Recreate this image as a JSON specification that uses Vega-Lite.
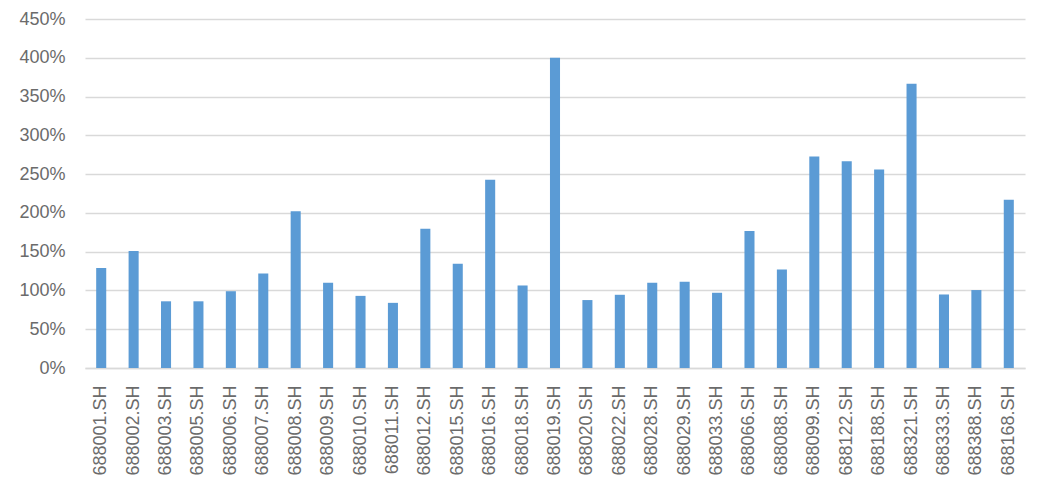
{
  "$schema": "https://vega.github.io/schema/vega-lite/v6.json",
  "width": 940,
  "height": 349,
  "autosize": {"type": "none"},
  "padding": {"left": 85, "top": 19, "right": 13, "bottom": 118},
  "background": "white",
  "config": {"view": {"stroke": null}},
  "data": {
    "values": [
      {"code": "688001.SH", "v": 1.29},
      {"code": "688002.SH", "v": 1.51},
      {"code": "688003.SH", "v": 0.86},
      {"code": "688005.SH", "v": 0.86},
      {"code": "688006.SH", "v": 0.99},
      {"code": "688007.SH", "v": 1.22},
      {"code": "688008.SH", "v": 2.02},
      {"code": "688009.SH", "v": 1.10},
      {"code": "688010.SH", "v": 0.93},
      {"code": "688011.SH", "v": 0.84},
      {"code": "688012.SH", "v": 1.795},
      {"code": "688015.SH", "v": 1.344},
      {"code": "688016.SH", "v": 2.426},
      {"code": "688018.SH", "v": 1.064},
      {"code": "688019.SH", "v": 4.00},
      {"code": "688020.SH", "v": 0.876},
      {"code": "688022.SH", "v": 0.944},
      {"code": "688028.SH", "v": 1.10},
      {"code": "688029.SH", "v": 1.112},
      {"code": "688033.SH", "v": 0.97},
      {"code": "688066.SH", "v": 1.765},
      {"code": "688088.SH", "v": 1.27},
      {"code": "688099.SH", "v": 2.726},
      {"code": "688122.SH", "v": 2.666},
      {"code": "688188.SH", "v": 2.558},
      {"code": "688321.SH", "v": 3.666},
      {"code": "688333.SH", "v": 0.948},
      {"code": "688388.SH", "v": 1.005},
      {"code": "688168.SH", "v": 2.168}
    ]
  },
  "mark": {"type": "bar", "color": "#5b9bd5"},
  "encoding": {
    "x": {
      "field": "code",
      "type": "nominal",
      "sort": null,
      "scale": {"paddingInner": 0.69, "paddingOuter": 0.345},
      "axis": {
        "title": null,
        "labelAngle": -90,
        "labelFont": "Liberation Sans",
        "labelFontSize": 18,
        "labelColor": "#6b6b6b",
        "labelPadding": 17,
        "ticks": false,
        "domainColor": "#d9d9d9",
        "domainWidth": 1.3
      }
    },
    "y": {
      "field": "v",
      "type": "quantitative",
      "scale": {"domain": [0, 4.5], "nice": false},
      "axis": {
        "title": null,
        "values": [0, 0.5, 1, 1.5, 2, 2.5, 3, 3.5, 4, 4.5],
        "format": ".0%",
        "labelFont": "Liberation Sans",
        "labelFontSize": 18,
        "labelColor": "#6b6b6b",
        "labelPadding": 20,
        "ticks": false,
        "domain": false,
        "gridColor": "#d9d9d9",
        "gridWidth": 1.3
      }
    }
  }
}
